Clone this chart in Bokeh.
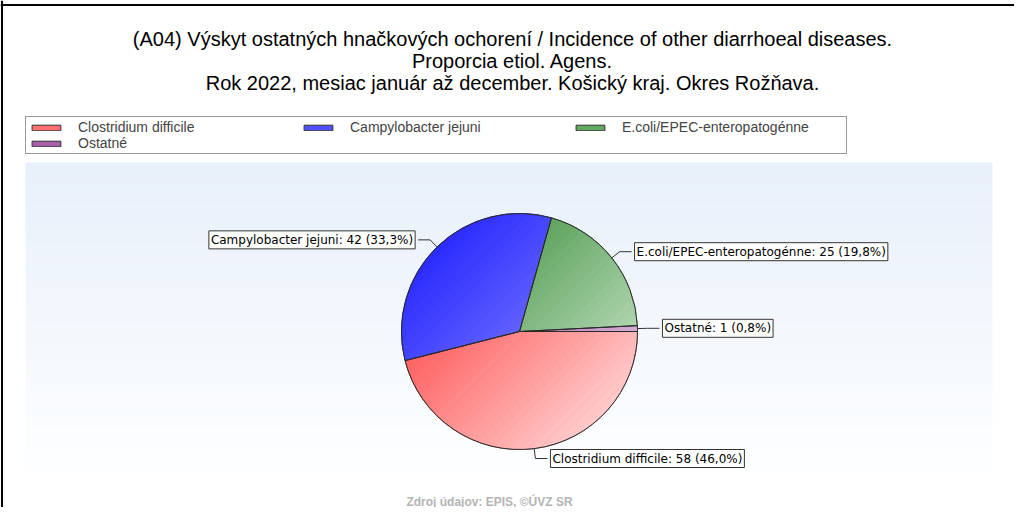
import numpy as np
from bokeh.plotting import figure
from bokeh.models import Range1d, Legend, LegendItem, Span, BoxAnnotation, ColumnDataSource
from bokeh.core.properties import value
from bokeh.embed import file_html
from bokeh.resources import INLINE

# ---------------- data ----------------
categories = ["Clostridium difficile", "Campylobacter jejuni",
              "E.coli/EPEC-enteropatogénne", "Ostatné"]
counts = [58, 42, 25, 1]
title_lines = [
    "(A04) Výskyt ostatných hnačkových ochorení / Incidence of other diarrhoeal diseases.",
    "Proporcia etiol. Agens.",
    "Rok 2022, mesiac január až december. Košický kraj. Okres Rožňava.",
]
footer_text = "Zdroj údajov: EPIS, ©ÚVZ SR"

# ---------------- styles ----------------
dark_rgb = [(255, 35, 35), (20, 20, 255), (30, 125, 30), (128, 40, 128)]
light_rgb = [(255, 232, 232), (175, 175, 255), (228, 244, 228), (238, 218, 238)]
swatch_colors = ["#ff7070", "#5050ff", "#5faa5f", "#a860a8"]
label_gap = 12

W, H = 1014, 507


def Y(py):
    return 523 - py


def hexc(c):
    return "#%02x%02x%02x" % tuple(int(round(v)) for v in c)


p = figure(width=W, height=H, x_range=Range1d(8, 1022), y_range=Range1d(8, 515),
           x_axis_location=None, y_axis_location=None, toolbar_location=None,
           output_backend="svg", min_border=0, outline_line_color=None,
           background_fill_color="white", border_fill_color="white")
p.grid.visible = False

# plot-area background gradient
top_c = np.array([232, 240, 250])
bot_c = np.array([253, 254, 255])
nb = 30
y_top, y_bot = 170, 477
for k in range(nb):
    t = k / (nb - 1)
    c = top_c + (bot_c - top_c) * t
    a = y_top + (y_bot - y_top) * k / nb
    b = y_top + (y_bot - y_top) * (k + 1) / nb + 0.6
    p.add_layout(BoxAnnotation(left=33, right=1000, top=Y(a), bottom=Y(b),
                               fill_color=hexc(c), fill_alpha=1.0, line_color=None,
                               level="underlay"))

# outer border
p.add_layout(Span(location=9.5, dimension="height", line_color="#000000", line_width=2))
p.add_layout(Span(location=Y(12.5), dimension="width", line_color="#000000", line_width=2))

# ---------------- pie ----------------
cx, cy, r = 527, Y(339), 118
total = float(sum(counts))
fracs = np.array(counts) / total
cum = np.concatenate([[0.0], np.cumsum(fracs)])
starts = -cum[1:] * 2 * np.pi
ends = -cum[:-1] * 2 * np.pi

src = ColumnDataSource(dict(cat=categories, start=starts, end=ends, color=swatch_colors))
base = p.wedge(x=cx, y=cy, radius=r, start_angle="start", end_angle="end",
               direction="anticlock", fill_color="color", line_color="#333333",
               source=src)


def clip(poly, a, b, c):
    # keep a*x + b*y <= c
    out = []
    n = len(poly)
    for i in range(n):
        P = poly[i]
        Q = poly[(i + 1) % n]
        fp = a * P[0] + b * P[1] - c
        fq = a * Q[0] + b * Q[1] - c
        if fp <= 0:
            out.append(P)
        if (fp < 0 < fq) or (fq < 0 < fp):
            t = fp / (fp - fq)
            out.append((P[0] + t * (Q[0] - P[0]), P[1] + t * (Q[1] - P[1])))
    return out


gx, gy, gc = [], [], []
nbands = 48
s_min = (cx - r) - (cy + r)
s_max = (cx + r) - (cy - r)
for i in range(len(counts)):
    angs = np.linspace(starts[i], ends[i], max(4, int(abs(ends[i] - starts[i]) * 60)))
    poly = [(cx, cy)] + [(cx + r * np.cos(a), cy + r * np.sin(a)) for a in angs]
    d = np.array(dark_rgb[i], float)
    l = np.array(light_rgb[i], float)
    for k in range(nbands):
        s0 = s_min + (s_max - s_min) * k / nbands
        s1 = s_min + (s_max - s_min) * (k + 1) / nbands
        pc = clip(poly, -1, 1, -s0)      # x - y >= s0
        pc = clip(pc, 1, -1, s1) if pc else pc  # x - y <= s1
        if len(pc) >= 3:
            tm = (k + 0.5) / nbands
            col = hexc(d + (l - d) * tm)
            gx.append([q[0] for q in pc])
            gy.append([q[1] for q in pc])
            gc.append(col)

p.patches(xs=gx, ys=gy, fill_color=gc, line_color=gc, line_width=0.6)
p.wedge(x=cx, y=cy, radius=r, start_angle="start", end_angle="end",
        direction="anticlock", fill_color=None, line_color="#2a2a2a", line_width=1,
        source=src)

# ---------------- callout labels ----------------
mids = (starts + ends) / 2
lx, ly, tx, ty, tt, ta = [], [], [], [], [], []
for i in range(len(counts)):
    m = mids[i]
    ex, ey = cx + r * np.cos(m), cy + r * np.sin(m)
    bx, by = cx + (r + 10) * np.cos(m), cy + (r + 10) * np.sin(m)
    side = 1 if np.cos(m) >= 0 else -1
    boxx = bx + side * label_gap
    lx.append([ex, bx, boxx])
    ly.append([ey, by, by])
    pct = ("%.1f" % (100 * fracs[i])).replace(".", ",")
    tx.append(boxx + side * 3)
    ty.append(by)
    tt.append(f"{categories[i]}: {counts[i]} ({pct}%)")
    ta.append("left" if side > 0 else "right")

p.multi_line(xs=lx, ys=ly, line_color="#333333", line_width=1)
p.text(x=tx, y=ty, text=tt, text_align=ta, text_baseline="middle",
       text_font=value("DejaVu Sans"), text_font_size="12px", text_color="#000000",
       background_fill_color="white", border_line_color="#333333", padding=2)

# ---------------- titles ----------------
for j, line in enumerate(title_lines):
    p.text(x=[520], y=[Y(46 + 22 * j)], text=[line], text_align="center",
           text_baseline="middle", text_font=value("Liberation Sans"),
           text_font_size="20px", text_color="#000000")

p.text(x=[497], y=[Y(509)], text=[footer_text], text_align="center",
       text_baseline="middle", text_font=value("Liberation Sans"),
       text_font_size="12px", text_font_style="bold", text_color="#b4b4b4")

# ---------------- legend ----------------
items = [LegendItem(label=categories[i], renderers=[base], index=i) for i in range(len(categories))]
legend = Legend(items=items, location=(25, 353), orientation="horizontal", ncols=3,
                glyph_width=36, glyph_height=7, label_standoff=14, label_width=222,
                label_height=14, spacing=0, padding=2, margin=0,
                label_text_font="Liberation Sans", label_text_font_size="14px",
                border_line_color="#333333", border_line_width=1,
                background_fill_color="white", background_fill_alpha=1.0)
p.add_layout(legend)

open("out.html", "w").write(file_html(p, INLINE))
